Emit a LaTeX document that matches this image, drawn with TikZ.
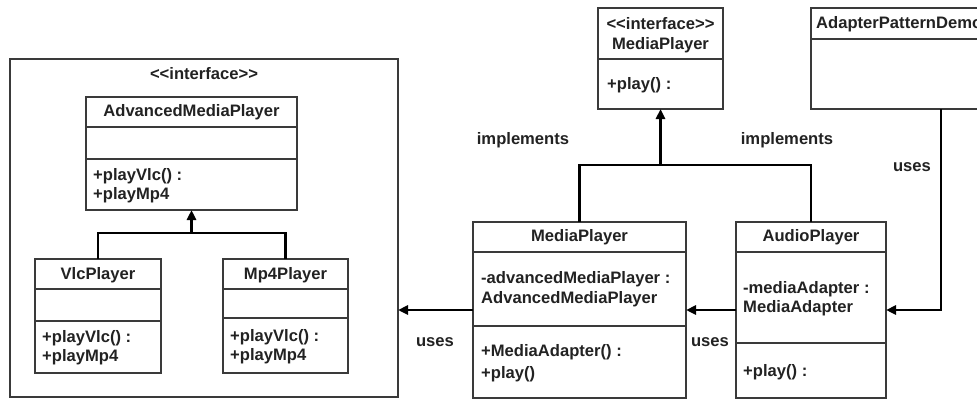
\documentclass[tikz,border=0pt]{standalone}
\usepackage{fontspec}
\setmainfont{Liberation Sans}[Ligatures=TeXOff]
\usetikzlibrary{arrows.meta}
\definecolor{ink}{HTML}{222222}
\definecolor{edge}{HTML}{3A3A3A}
\tikzset{
  box/.style={draw=edge, line width=1.3pt, inner sep=0pt, outer sep=0pt, anchor=north west},
  div/.style={draw=edge, line width=1.3pt},
  conn/.style={draw=black, line width=2.6pt},
  arr/.style={conn, -{Triangle[length=10pt,width=9pt]}},
  lbl/.style={text=ink, font=\fontsize{16.6}{19}\selectfont\bfseries, inner sep=0pt},
  ttl/.style={lbl, anchor=base},
  txt/.style={lbl, anchor=base west},
}
\begin{document}
\begin{tikzpicture}[x=1pt,y=-1pt]
\useasboundingbox (0,0) rectangle (977,399);
\clip (0,0) rectangle (977,399);
\fill[white] (0,0) rectangle (977,399);
% group box
\node[box, minimum width=388pt, minimum height=338pt] (grp) at (10,59) {};
\node[ttl] (grpt) at (204,79) {<<interface>>};
% AdvancedMediaPlayer
\node[box, minimum width=211pt, minimum height=113pt] (amp) at (86,97) {};
\draw[div] ([yshift=-30pt]amp.north west) -- ([yshift=-30pt]amp.north east);
\draw[div] ([yshift=-62pt]amp.north west) -- ([yshift=-62pt]amp.north east);
\node[ttl] (ampt) at (191.5,116) {AdvancedMediaPlayer};
\node[txt] (ampm1) at (93,180) {+playVlc() :};
\node[txt] (ampm2) at (93,199) {+playMp4};
% VlcPlayer
\node[box, minimum width=126pt, minimum height=114pt] (vlc) at (35,259) {};
\draw[div] ([yshift=-30pt]vlc.north west) -- ([yshift=-30pt]vlc.north east);
\draw[div] ([yshift=-62pt]vlc.north west) -- ([yshift=-62pt]vlc.north east);
\node[ttl] (vlct) at (98,279) {VlcPlayer};
\node[txt] (vlcm1) at (42,342) {+playVlc() :};
\node[txt] (vlcm2) at (42,361) {+playMp4};
% Mp4Player
\node[box, minimum width=125pt, minimum height=114pt] (mp4) at (223,259) {};
\draw[div] ([yshift=-30pt]mp4.north west) -- ([yshift=-30pt]mp4.north east);
\draw[div] ([yshift=-59pt]mp4.north west) -- ([yshift=-59pt]mp4.north east);
\node[ttl] (mp4t) at (285.5,279) {Mp4Player};
\node[txt] (mp4m1) at (230,341) {+playVlc() :};
\node[txt] (mp4m2) at (230,360) {+playMp4};
% MediaPlayer interface
\node[box, minimum width=125pt, minimum height=101pt] (mpi) at (598,8) {};
\draw[div] ([yshift=-51pt]mpi.north west) -- ([yshift=-51pt]mpi.north east);
\node[ttl] (mpis) at (660.5,29) {<<interface>>};
\node[ttl] (mpit) at (660.5,49) {MediaPlayer};
\node[txt] (mpim) at (607,89) {+play() :};
% AdapterPatternDemo
\node[box, minimum width=200pt, minimum height=101pt] (apd) at (811,8) {};
\draw[div] ([yshift=-31pt]apd.north west) -- ([yshift=-31pt]apd.north east);
\node[txt] (apdt) at (816,28) {AdapterPatternDemo};
% MediaPlayer (adapter)
\node[box, minimum width=213pt, minimum height=176pt] (mpa) at (473,222) {};
\draw[div] ([yshift=-30pt]mpa.north west) -- ([yshift=-30pt]mpa.north east);
\draw[div] ([yshift=-104pt]mpa.north west) -- ([yshift=-104pt]mpa.north east);
\node[ttl] (mpat) at (579.5,241) {MediaPlayer};
\node[txt] (mpaa1) at (481,283) {-advancedMediaPlayer :};
\node[txt] (mpaa2) at (481,303) {AdvancedMediaPlayer};
\node[txt] (mpam1) at (481,356) {+MediaAdapter() :};
\node[txt] (mpam2) at (481,378) {+play()};
% AudioPlayer
\node[box, minimum width=150pt, minimum height=176pt] (aud) at (736,222) {};
\draw[div] ([yshift=-30pt]aud.north west) -- ([yshift=-30pt]aud.north east);
\draw[div] ([yshift=-121pt]aud.north west) -- ([yshift=-121pt]aud.north east);
\node[ttl] (audt) at (811,241) {AudioPlayer};
\node[txt] (auda1) at (743,293) {-mediaAdapter :};
\node[txt] (auda2) at (743,312) {MediaAdapter};
\node[txt] (audm) at (743,376) {+play() :};
% connectors
\coordinate (j1) at (191.5,233);
\draw[conn] (vlc.north) |- (j1) -| (mp4.north);
\draw[arr] (j1) -- (amp.south);
\coordinate (j2) at (660.5,165);
\draw[conn] (mpa.north) |- (j2) -| (aud.north);
\draw[arr] (j2) -- (mpi.south);
\coordinate (apdo) at (941,109);
\draw[arr] (apdo) |- (aud.east);
\draw[arr] (aud.west) -- (mpa.east);
\draw[arr] (mpa.west) -- (mpa.west -| grp.east);
% labels
\node[ttl] (imp1) at (523,144) {implements};
\node[ttl] (imp2) at (787,144) {implements};
\node[ttl] (use1) at (912,171) {uses};
\node[ttl] (use2) at (435,346) {uses};
\node[ttl] (use3) at (710,346) {uses};
\end{tikzpicture}
\end{document}
